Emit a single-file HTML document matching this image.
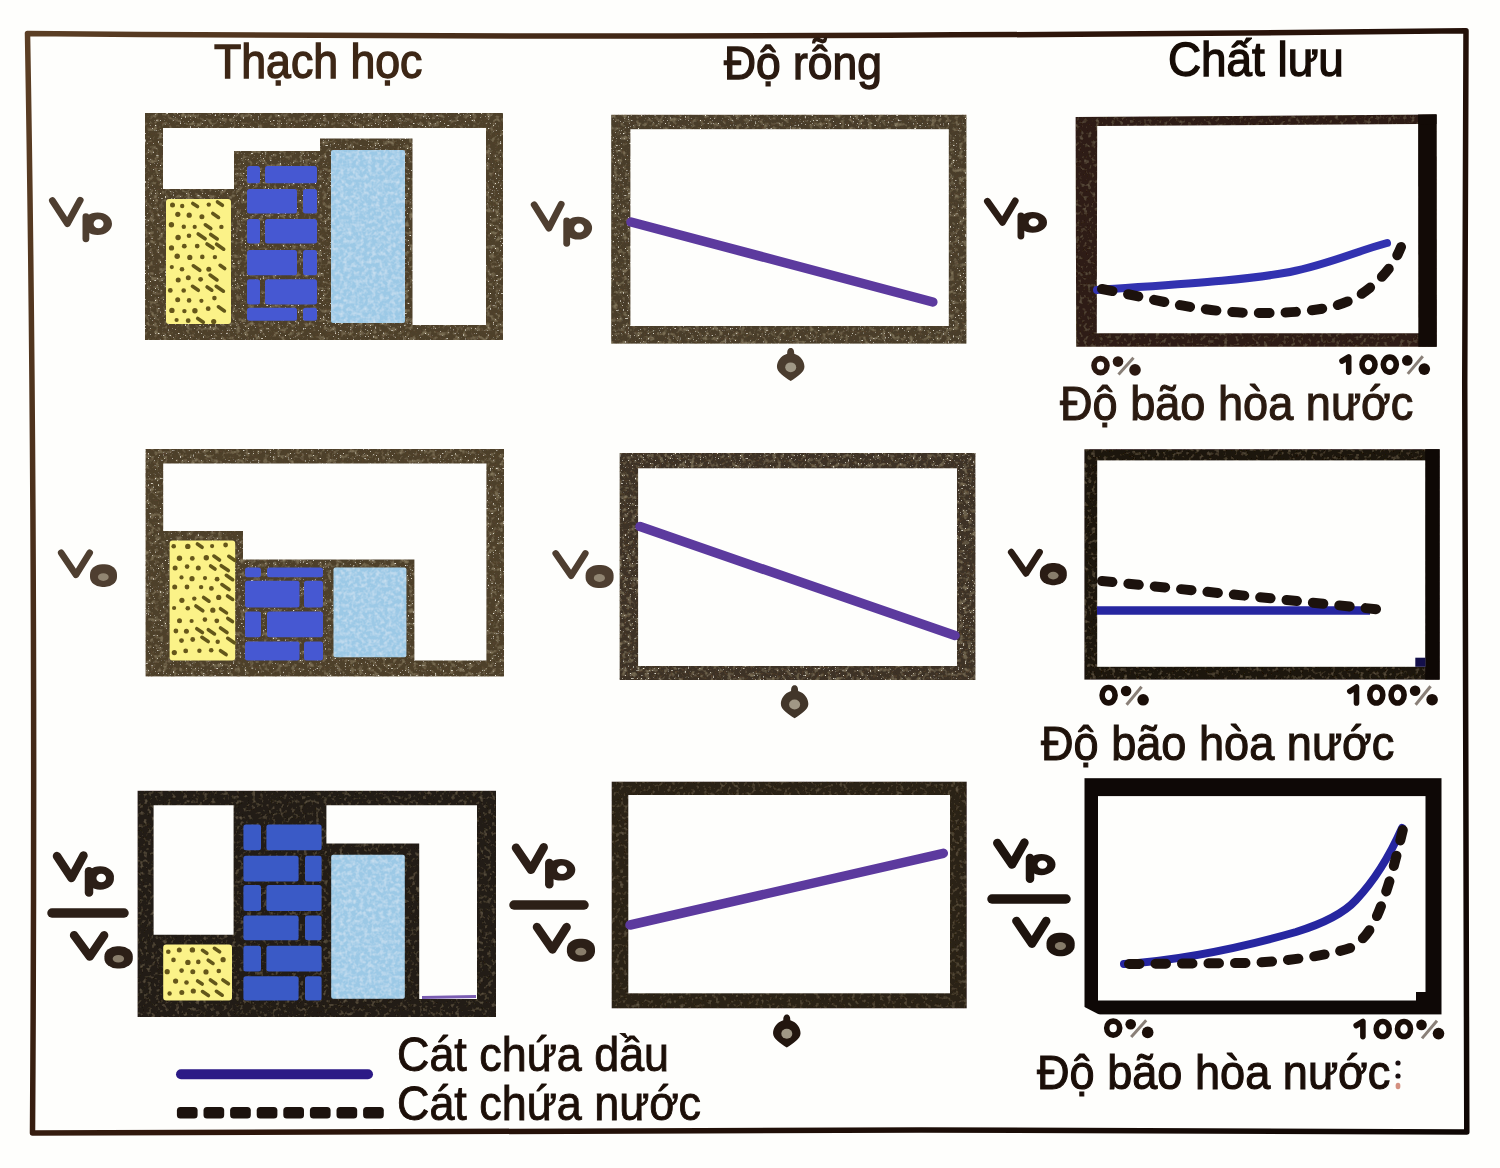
<!DOCTYPE html>
<html><head><meta charset="utf-8"><title>Figure</title>
<style>html,body{margin:0;padding:0;background:#fefefc;}svg{display:block;filter:blur(0.45px);}</style></head>
<body><svg width="1500" height="1168" viewBox="0 0 1500 1168">
<defs>
<linearGradient id="fg" gradientUnits="userSpaceOnUse" x1="0" y1="0" x2="1500" y2="1168">
<stop offset="0" stop-color="#5e4126"/><stop offset="0.45" stop-color="#2e160b"/><stop offset="1" stop-color="#0d0604"/>
</linearGradient>
<filter id="speck" x="0" y="0" width="100%" height="100%">
  <feTurbulence type="fractalNoise" baseFrequency="0.22" numOctaves="2" seed="5" result="m"/>
  <feColorMatrix in="m" type="matrix" values="0 0 0 0 0.48  0 0 0 0 0.40  0 0 0 0 0.24  1.1 0 0 0 -0.56" result="mo"/>
  <feComposite in="mo" in2="SourceAlpha" operator="in" result="mo2"/>
  <feTurbulence type="fractalNoise" baseFrequency="0.6" numOctaves="1" seed="3" result="n"/>
  <feColorMatrix in="n" type="matrix" values="0 0 0 0 0.85  0 0 0 0 0.80  0 0 0 0 0.68  8 0 0 0 -5.4" result="lt"/>
  <feComposite in="lt" in2="SourceAlpha" operator="in" result="lt2"/>
  <feTurbulence type="fractalNoise" baseFrequency="0.45" numOctaves="1" seed="11" result="n2"/>
  <feColorMatrix in="n2" type="matrix" values="0 0 0 0 0.10  0 0 0 0 0.06  0 0 0 0 0.03  -4 0 0 0 1.7" result="dk"/>
  <feComposite in="dk" in2="SourceAlpha" operator="in" result="dk2"/>
  <feMerge><feMergeNode in="SourceGraphic"/><feMergeNode in="mo2"/><feMergeNode in="dk2"/><feMergeNode in="lt2"/></feMerge>
</filter>
<filter id="speck2" x="0" y="0" width="100%" height="100%">
  <feTurbulence type="fractalNoise" baseFrequency="0.25" numOctaves="2" seed="9" result="m"/>
  <feColorMatrix in="m" type="matrix" values="0 0 0 0 0.32  0 0 0 0 0.25  0 0 0 0 0.16  0.9 0 0 0 -0.48" result="mo"/>
  <feComposite in="mo" in2="SourceAlpha" operator="in" result="mo2"/>
  <feMerge><feMergeNode in="SourceGraphic"/><feMergeNode in="mo2"/></feMerge>
</filter>
<filter id="mottle" x="0" y="0" width="100%" height="100%">
  <feTurbulence type="fractalNoise" baseFrequency="0.25" numOctaves="2" seed="7" result="n"/>
  <feColorMatrix in="n" type="matrix" values="0 0 0 0 1  0 0 0 0 1  0 0 0 0 1  0 0 0 1.4 -0.55" result="w"/>
  <feComposite in="w" in2="SourceAlpha" operator="in" result="w2"/>
  <feComponentTransfer in="w2" result="w3"><feFuncA type="linear" slope="0.55"/></feComponentTransfer>
  <feMerge><feMergeNode in="SourceGraphic"/><feMergeNode in="w3"/></feMerge>
</filter>
</defs>
<rect width="1500" height="1168" fill="#fefefc"/>
<path d="M27.5,33.4 C400,37 900,37 1466,30.8 C1464,400 1464,800 1466.8,1132 C1000,1129 400,1129 32.5,1133 C35,750 33,350 27.5,33.4 Z" fill="none" stroke="url(#fg)" stroke-width="5.5" stroke-linejoin="round"/>
<rect x="145.0" y="113.0" width="358.0" height="227.0" fill="#4e4129" filter="url(#speck)"/>
<path d="M163.0,128.0 L486.0,128.0 L486.0,325.0 L412.5,325.0 L412.5,138.5 L320.0,138.5 L320.0,151.0 L234.0,151.0 L234.0,189.0 L163.0,189.0Z" fill="#fefefc" />
<rect x="166.0" y="199.0" width="65.0" height="125.0" fill="#fbf288" rx="3"/>
<g><circle cx="172.5" cy="205.0" r="2.5" fill="#65561a"/><circle cx="182.2" cy="206.0" r="2.2" fill="#65561a"/><line x1="192.8" y1="203.4" x2="197.5" y2="206.6" stroke="#62561a" stroke-width="3.6" stroke-linecap="round"/><circle cx="208.8" cy="204.6" r="2.2" fill="#65561a"/><line x1="217.5" y1="201.9" x2="222.4" y2="205.3" stroke="#62561a" stroke-width="3.6" stroke-linecap="round"/><circle cx="177.8" cy="214.3" r="2.6" fill="#65561a"/><circle cx="189.2" cy="215.2" r="2.6" fill="#65561a"/><circle cx="201.9" cy="216.8" r="2.5" fill="#65561a"/><line x1="212.8" y1="213.5" x2="218.5" y2="217.4" stroke="#62561a" stroke-width="3.6" stroke-linecap="round"/><circle cx="171.4" cy="224.8" r="2.7" fill="#65561a"/><circle cx="183.8" cy="226.7" r="2.2" fill="#65561a"/><circle cx="194.7" cy="226.9" r="2.1" fill="#65561a"/><line x1="205.3" y1="224.8" x2="210.8" y2="228.6" stroke="#62561a" stroke-width="3.6" stroke-linecap="round"/><circle cx="221.4" cy="226.9" r="2.2" fill="#65561a"/><circle cx="178.1" cy="237.5" r="2.7" fill="#65561a"/><circle cx="189.0" cy="235.7" r="2.3" fill="#65561a"/><line x1="198.2" y1="234.0" x2="205.1" y2="238.8" stroke="#62561a" stroke-width="3.6" stroke-linecap="round"/><line x1="210.7" y1="234.5" x2="217.2" y2="238.9" stroke="#62561a" stroke-width="3.6" stroke-linecap="round"/><circle cx="171.5" cy="247.9" r="2.6" fill="#65561a"/><circle cx="184.3" cy="246.2" r="2.4" fill="#65561a"/><circle cx="197.2" cy="246.1" r="2.4" fill="#65561a"/><line x1="207.0" y1="244.0" x2="213.0" y2="248.1" stroke="#62561a" stroke-width="3.6" stroke-linecap="round"/><line x1="216.6" y1="244.2" x2="223.7" y2="249.2" stroke="#62561a" stroke-width="3.6" stroke-linecap="round"/><circle cx="177.2" cy="256.2" r="2.7" fill="#65561a"/><circle cx="189.8" cy="257.4" r="2.6" fill="#65561a"/><circle cx="202.3" cy="256.9" r="2.3" fill="#65561a"/><circle cx="214.9" cy="257.1" r="2.2" fill="#65561a"/><circle cx="171.8" cy="267.1" r="2.1" fill="#65561a"/><circle cx="182.0" cy="269.2" r="2.3" fill="#65561a"/><line x1="193.3" y1="265.8" x2="199.8" y2="270.3" stroke="#62561a" stroke-width="3.6" stroke-linecap="round"/><circle cx="208.8" cy="269.2" r="2.5" fill="#65561a"/><line x1="220.1" y1="265.3" x2="224.7" y2="268.5" stroke="#62561a" stroke-width="3.6" stroke-linecap="round"/><circle cx="178.2" cy="280.0" r="2.5" fill="#65561a"/><circle cx="188.3" cy="277.7" r="2.5" fill="#65561a"/><circle cx="200.6" cy="279.3" r="2.4" fill="#65561a"/><line x1="210.1" y1="275.1" x2="217.0" y2="279.9" stroke="#62561a" stroke-width="3.6" stroke-linecap="round"/><circle cx="170.3" cy="290.4" r="2.4" fill="#65561a"/><circle cx="183.7" cy="290.5" r="2.3" fill="#65561a"/><line x1="192.5" y1="286.3" x2="198.3" y2="290.3" stroke="#62561a" stroke-width="3.6" stroke-linecap="round"/><line x1="207.1" y1="287.0" x2="211.8" y2="290.2" stroke="#62561a" stroke-width="3.6" stroke-linecap="round"/><line x1="216.2" y1="286.3" x2="223.4" y2="291.2" stroke="#62561a" stroke-width="3.6" stroke-linecap="round"/><circle cx="177.7" cy="299.7" r="2.5" fill="#65561a"/><circle cx="189.1" cy="300.4" r="2.3" fill="#65561a"/><circle cx="201.4" cy="300.8" r="2.1" fill="#65561a"/><circle cx="214.4" cy="298.1" r="2.3" fill="#65561a"/><circle cx="171.9" cy="310.4" r="2.7" fill="#65561a"/><circle cx="184.4" cy="311.1" r="2.2" fill="#65561a"/><circle cx="194.9" cy="310.7" r="2.7" fill="#65561a"/><circle cx="208.2" cy="308.7" r="2.4" fill="#65561a"/><line x1="218.4" y1="306.8" x2="224.4" y2="310.9" stroke="#62561a" stroke-width="3.6" stroke-linecap="round"/><circle cx="176.6" cy="320.0" r="2.1" fill="#65561a"/><circle cx="188.2" cy="320.7" r="2.4" fill="#65561a"/><line x1="197.7" y1="318.5" x2="203.3" y2="322.3" stroke="#62561a" stroke-width="3.6" stroke-linecap="round"/><circle cx="213.7" cy="321.5" r="2.6" fill="#65561a"/></g>
<rect x="247.0" y="166.0" width="13.0" height="17.3" fill="#4658d2" rx="2.5"/>
<rect x="265.0" y="166.0" width="52.0" height="17.3" fill="#4658d2" rx="2.5"/>
<rect x="247.0" y="189.0" width="50.0" height="24.4" fill="#4658d2" rx="2.5"/>
<rect x="303.0" y="189.0" width="14.0" height="24.4" fill="#4658d2" rx="2.5"/>
<rect x="247.0" y="219.0" width="13.0" height="24.5" fill="#4658d2" rx="2.5"/>
<rect x="265.0" y="219.0" width="52.0" height="24.5" fill="#4658d2" rx="2.5"/>
<rect x="247.0" y="250.0" width="50.0" height="25.2" fill="#4658d2" rx="2.5"/>
<rect x="303.0" y="250.0" width="14.0" height="25.2" fill="#4658d2" rx="2.5"/>
<rect x="247.0" y="279.3" width="13.0" height="25.2" fill="#4658d2" rx="2.5"/>
<rect x="265.0" y="279.3" width="52.0" height="25.2" fill="#4658d2" rx="2.5"/>
<rect x="247.0" y="307.8" width="50.0" height="13.0" fill="#4658d2" rx="2.5"/>
<rect x="303.0" y="307.8" width="14.0" height="13.0" fill="#4658d2" rx="2.5"/>
<rect x="331.0" y="150.0" width="74.0" height="173.0" fill="#9cc9e6" rx="2" filter="url(#mottle)"/>
<rect x="145.6" y="449.0" width="358.4" height="227.4" fill="#4e4129" filter="url(#speck)"/>
<path d="M163.2,463.6 L486.4,463.6 L486.4,660.4 L414.4,660.4 L414.4,559.6 L243.0,559.6 L243.0,531.0 L163.2,531.0Z" fill="#fefefc" />
<rect x="169.6" y="540.4" width="65.6" height="120.0" fill="#fbf288" rx="3"/>
<g><circle cx="173.7" cy="546.2" r="2.3" fill="#65561a"/><circle cx="187.8" cy="546.4" r="2.7" fill="#65561a"/><line x1="197.4" y1="544.0" x2="202.1" y2="547.3" stroke="#62561a" stroke-width="3.6" stroke-linecap="round"/><circle cx="212.1" cy="546.1" r="2.1" fill="#65561a"/><circle cx="225.6" cy="545.0" r="2.4" fill="#65561a"/><circle cx="179.5" cy="558.3" r="2.7" fill="#65561a"/><circle cx="192.3" cy="558.4" r="2.4" fill="#65561a"/><circle cx="206.3" cy="557.8" r="2.7" fill="#65561a"/><line x1="213.9" y1="556.1" x2="219.5" y2="560.0" stroke="#62561a" stroke-width="3.6" stroke-linecap="round"/><line x1="228.8" y1="556.3" x2="234.6" y2="560.3" stroke="#62561a" stroke-width="3.6" stroke-linecap="round"/><circle cx="175.1" cy="568.1" r="2.5" fill="#65561a"/><circle cx="187.1" cy="566.6" r="2.3" fill="#65561a"/><circle cx="198.3" cy="567.9" r="2.5" fill="#65561a"/><line x1="210.6" y1="566.0" x2="215.0" y2="569.0" stroke="#62561a" stroke-width="3.6" stroke-linecap="round"/><line x1="221.2" y1="565.7" x2="228.3" y2="570.6" stroke="#62561a" stroke-width="3.6" stroke-linecap="round"/><circle cx="181.5" cy="577.4" r="2.1" fill="#65561a"/><circle cx="192.0" cy="578.7" r="2.6" fill="#65561a"/><circle cx="205.0" cy="578.1" r="2.1" fill="#65561a"/><circle cx="217.1" cy="579.2" r="2.4" fill="#65561a"/><line x1="226.3" y1="575.3" x2="232.7" y2="579.7" stroke="#62561a" stroke-width="3.6" stroke-linecap="round"/><circle cx="174.7" cy="587.0" r="2.5" fill="#65561a"/><circle cx="187.0" cy="587.0" r="2.4" fill="#65561a"/><circle cx="201.1" cy="587.1" r="2.2" fill="#65561a"/><circle cx="211.4" cy="588.4" r="2.4" fill="#65561a"/><line x1="221.9" y1="584.6" x2="229.1" y2="589.5" stroke="#62561a" stroke-width="3.6" stroke-linecap="round"/><circle cx="181.9" cy="600.3" r="2.6" fill="#65561a"/><circle cx="194.3" cy="598.6" r="2.2" fill="#65561a"/><line x1="203.6" y1="597.5" x2="209.0" y2="601.2" stroke="#62561a" stroke-width="3.6" stroke-linecap="round"/><circle cx="218.7" cy="597.4" r="2.6" fill="#65561a"/><line x1="227.5" y1="595.9" x2="232.7" y2="599.4" stroke="#62561a" stroke-width="3.6" stroke-linecap="round"/><circle cx="174.1" cy="608.0" r="2.1" fill="#65561a"/><circle cx="187.8" cy="608.2" r="2.3" fill="#65561a"/><line x1="195.9" y1="606.0" x2="202.8" y2="610.8" stroke="#62561a" stroke-width="3.6" stroke-linecap="round"/><circle cx="212.8" cy="610.2" r="2.6" fill="#65561a"/><line x1="220.5" y1="608.7" x2="226.5" y2="612.9" stroke="#62561a" stroke-width="3.6" stroke-linecap="round"/><circle cx="179.5" cy="620.7" r="2.5" fill="#65561a"/><circle cx="191.6" cy="621.0" r="2.1" fill="#65561a"/><circle cx="204.9" cy="619.6" r="2.3" fill="#65561a"/><circle cx="216.8" cy="620.8" r="2.4" fill="#65561a"/><line x1="227.8" y1="618.4" x2="232.4" y2="621.6" stroke="#62561a" stroke-width="3.6" stroke-linecap="round"/><circle cx="175.9" cy="631.0" r="2.4" fill="#65561a"/><circle cx="186.4" cy="631.3" r="2.5" fill="#65561a"/><line x1="196.8" y1="628.7" x2="202.4" y2="632.5" stroke="#62561a" stroke-width="3.6" stroke-linecap="round"/><line x1="208.3" y1="629.7" x2="214.5" y2="633.9" stroke="#62561a" stroke-width="3.6" stroke-linecap="round"/><line x1="220.5" y1="628.0" x2="227.0" y2="632.5" stroke="#62561a" stroke-width="3.6" stroke-linecap="round"/><circle cx="181.5" cy="640.6" r="2.4" fill="#65561a"/><circle cx="192.7" cy="639.5" r="2.4" fill="#65561a"/><line x1="201.9" y1="637.3" x2="208.2" y2="641.6" stroke="#62561a" stroke-width="3.6" stroke-linecap="round"/><circle cx="217.7" cy="641.7" r="2.2" fill="#65561a"/><line x1="227.7" y1="638.3" x2="234.3" y2="642.8" stroke="#62561a" stroke-width="3.6" stroke-linecap="round"/><circle cx="174.3" cy="652.6" r="2.6" fill="#65561a"/><circle cx="185.7" cy="650.9" r="2.4" fill="#65561a"/><circle cx="199.4" cy="650.8" r="2.2" fill="#65561a"/><circle cx="211.2" cy="650.3" r="2.3" fill="#65561a"/><line x1="220.5" y1="650.7" x2="226.1" y2="654.6" stroke="#62561a" stroke-width="3.6" stroke-linecap="round"/></g>
<rect x="245.0" y="567.5" width="16.0" height="9.7" fill="#4658d2" rx="2.5"/>
<rect x="267.0" y="567.5" width="56.0" height="9.7" fill="#4658d2" rx="2.5"/>
<rect x="245.0" y="580.8" width="54.5" height="26.7" fill="#4658d2" rx="2.5"/>
<rect x="304.0" y="580.8" width="19.0" height="26.7" fill="#4658d2" rx="2.5"/>
<rect x="245.0" y="611.6" width="16.0" height="25.7" fill="#4658d2" rx="2.5"/>
<rect x="267.0" y="611.6" width="56.0" height="25.7" fill="#4658d2" rx="2.5"/>
<rect x="245.0" y="641.4" width="54.5" height="19.0" fill="#4658d2" rx="2.5"/>
<rect x="304.0" y="641.4" width="19.0" height="19.0" fill="#4658d2" rx="2.5"/>
<rect x="333.5" y="567.6" width="72.9" height="89.6" fill="#9cc9e6" rx="2" filter="url(#mottle)"/>
<rect x="137.6" y="790.8" width="358.4" height="226.2" fill="#241a12" filter="url(#speck2)"/>
<path d="M153.6,805.2 L233.6,805.2 L233.6,934.8 L153.6,934.8Z" fill="#fefefc" />
<path d="M326.4,805.2 L477.0,805.2 L477.0,999.0 L419.2,999.0 L419.2,843.6 L326.4,843.6Z" fill="#fefefc" />
<rect x="163.2" y="944.4" width="68.8" height="56.0" fill="#fbf288" rx="3"/>
<g><circle cx="168.3" cy="951.7" r="2.3" fill="#65561a"/><circle cx="179.3" cy="949.9" r="2.5" fill="#65561a"/><circle cx="192.4" cy="949.9" r="2.7" fill="#65561a"/><line x1="202.5" y1="950.3" x2="206.9" y2="953.3" stroke="#62561a" stroke-width="3.6" stroke-linecap="round"/><line x1="214.4" y1="948.3" x2="219.6" y2="951.8" stroke="#62561a" stroke-width="3.6" stroke-linecap="round"/><circle cx="173.5" cy="959.9" r="2.3" fill="#65561a"/><circle cx="187.9" cy="962.4" r="2.7" fill="#65561a"/><circle cx="198.3" cy="961.9" r="2.3" fill="#65561a"/><line x1="208.2" y1="960.2" x2="213.0" y2="963.4" stroke="#62561a" stroke-width="3.6" stroke-linecap="round"/><circle cx="223.1" cy="959.7" r="2.6" fill="#65561a"/><circle cx="167.2" cy="971.7" r="2.6" fill="#65561a"/><circle cx="181.6" cy="970.6" r="2.3" fill="#65561a"/><circle cx="192.8" cy="971.8" r="2.5" fill="#65561a"/><circle cx="206.0" cy="971.9" r="2.6" fill="#65561a"/><circle cx="218.8" cy="971.0" r="2.3" fill="#65561a"/><circle cx="175.6" cy="981.1" r="2.6" fill="#65561a"/><circle cx="186.5" cy="982.5" r="2.3" fill="#65561a"/><line x1="197.6" y1="981.0" x2="202.2" y2="984.1" stroke="#62561a" stroke-width="3.6" stroke-linecap="round"/><line x1="210.4" y1="980.0" x2="215.8" y2="983.7" stroke="#62561a" stroke-width="3.6" stroke-linecap="round"/><line x1="222.9" y1="980.0" x2="228.4" y2="983.8" stroke="#62561a" stroke-width="3.6" stroke-linecap="round"/><circle cx="169.6" cy="993.5" r="2.2" fill="#65561a"/><circle cx="181.8" cy="992.5" r="2.5" fill="#65561a"/><circle cx="193.3" cy="991.0" r="2.6" fill="#65561a"/><line x1="202.5" y1="991.6" x2="208.4" y2="995.6" stroke="#62561a" stroke-width="3.6" stroke-linecap="round"/><line x1="216.4" y1="991.3" x2="222.2" y2="995.2" stroke="#62561a" stroke-width="3.6" stroke-linecap="round"/></g>
<rect x="243.4" y="824.4" width="17.6" height="25.8" fill="#3a5ac6" rx="2.5"/>
<rect x="266.4" y="824.4" width="55.2" height="25.8" fill="#3a5ac6" rx="2.5"/>
<rect x="243.4" y="855.7" width="55.2" height="25.8" fill="#3a5ac6" rx="2.5"/>
<rect x="305.0" y="855.7" width="16.6" height="25.8" fill="#3a5ac6" rx="2.5"/>
<rect x="243.4" y="885.1" width="17.6" height="25.8" fill="#3a5ac6" rx="2.5"/>
<rect x="266.4" y="885.1" width="55.2" height="25.8" fill="#3a5ac6" rx="2.5"/>
<rect x="243.4" y="915.5" width="55.2" height="24.8" fill="#3a5ac6" rx="2.5"/>
<rect x="305.0" y="915.5" width="16.6" height="24.8" fill="#3a5ac6" rx="2.5"/>
<rect x="243.4" y="945.8" width="17.6" height="25.8" fill="#3a5ac6" rx="2.5"/>
<rect x="266.4" y="945.8" width="55.2" height="25.8" fill="#3a5ac6" rx="2.5"/>
<rect x="243.4" y="976.2" width="55.2" height="24.2" fill="#3a5ac6" rx="2.5"/>
<rect x="305.0" y="976.2" width="16.6" height="24.2" fill="#3a5ac6" rx="2.5"/>
<rect x="331.2" y="854.8" width="73.6" height="144.0" fill="#9cc9e6" rx="2" filter="url(#mottle)"/>
<rect x="611.2" y="114.8" width="355.2" height="228.8" fill="#4a3d2a" filter="url(#speck)"/>
<rect x="630.4" y="129.2" width="318.4" height="196.8" fill="#fefefc" />
<line x1="631" y1="222" x2="932.8" y2="302" stroke="#5c3a9e" stroke-width="9.5" stroke-linecap="round"/>
<rect x="619.7" y="453.0" width="355.7" height="227.0" fill="#3e3026" filter="url(#speck)"/>
<rect x="638.1" y="468.3" width="318.9" height="197.7" fill="#fefefc" />
<line x1="640" y1="526.6" x2="955" y2="635.5" stroke="#5c3a9e" stroke-width="9.5" stroke-linecap="round"/>
<rect x="611.7" y="781.7" width="355.0" height="226.6" fill="#2c2018" filter="url(#speck2)"/>
<rect x="628.3" y="795.0" width="321.7" height="198.3" fill="#fefefc" />
<line x1="630" y1="925" x2="943.3" y2="853.3" stroke="#5c3a9e" stroke-width="9.5" stroke-linecap="round"/>
<path d="M1075.6,117.1 L1436.5,114.5 L1436.7,346.7 L1076.2,346.7 Z" fill="#2e1e14" filter="url(#speck2)"/>
<path d="M1418,114.7 L1436.5,114.5 L1436.7,346.7 L1418.3,346.7 Z" fill="#120a06"/>
<path d="M1418,114.7 L1436.5,114.5 L1436.5,124 L1418,124.2 Z" fill="#120a06"/>
<path d="M1097.2,126.1 L1418.1,124 L1418.3,333.3 L1096.8,333.3 Z" fill="#fefefc"/>
<rect x="1084.4" y="449.2" width="355.2" height="230.4" fill="#1e130c" filter="url(#speck2)"/>
<rect x="1425.2" y="449.2" width="14.4" height="230.4" fill="#0e0805" />
<rect x="1097.2" y="460.4" width="328.0" height="206.4" fill="#fefefc" />
<rect x="1084.5" y="778.2" width="357.0" height="236.2" fill="#0e0806" />
<rect x="1098.0" y="796.1" width="327.5" height="204.4" fill="#fefefc" />
<rect x="1416.0" y="992.0" width="10.0" height="9.0" fill="#0e0806" />
<path d="M1083.5,1006.5 L1101.0,1015.5 L1083.5,1015.5Z" fill="#fefefc" />
<rect x="1415.3" y="657.7" width="10.2" height="9.1" fill="#14104a" />
<path d="M1097,290 C1180,284 1240,281 1290,272 C1330,264 1360,250 1387,243" fill="none" stroke="#3232b0" stroke-width="8" stroke-linecap="round"/>
<path d="M1102,289 C1160,300 1200,313 1260,313 C1310,313 1340,308 1360,295 C1385,278 1395,262 1401,247" fill="none" stroke="#1c120d" stroke-width="10" stroke-linecap="round" stroke-dasharray="10.5 16"/>
<line x1="1097" y1="610.5" x2="1370" y2="610.5" stroke="#2626a0" stroke-width="8.5"/>
<line x1="1102" y1="581" x2="1384" y2="610" stroke="#1c120d" stroke-width="10" stroke-linecap="round" stroke-dasharray="10.5 16"/>
<path d="M1124,964 C1180,960 1240,948 1296,932 C1325,923 1345,912 1356,900 C1375,880 1390,855 1402,828" fill="none" stroke="#2626a0" stroke-width="8" stroke-linecap="round"/>
<path d="M1129,964 L1250,963 C1290,961 1330,955 1350,948 C1370,938 1378,915 1385,895 C1392,875 1398,850 1404,825" fill="none" stroke="#1c120d" stroke-width="10" stroke-linecap="round" stroke-dasharray="10.5 16"/>
<path d="M422,997.5 L476,996.5" stroke="#5a36a0" stroke-width="3" opacity="0.8"/>
<circle cx="1398" cy="1063" r="2.6" fill="#1a0e10"/><circle cx="1398" cy="1076" r="2.6" fill="#1a0e10"/><ellipse cx="1398" cy="1086" rx="2.4" ry="3.2" fill="#d49080"/>
<text transform="translate(214,78) scale(0.93,1)" font-family="Liberation Sans" font-size="48" font-weight="normal" fill="#3d2716" text-anchor="start" stroke="#3d2716" stroke-width="1.4" >Thạch học</text>
<text transform="translate(724,78.7) scale(0.955,1)" font-family="Liberation Sans" font-size="46.5" font-weight="normal" fill="#2a1a10" text-anchor="start" stroke="#2a1a10" stroke-width="1.4" >Độ rỗng</text>
<text transform="translate(1168,75.7) scale(0.945,1)" font-family="Liberation Sans" font-size="48.5" font-weight="normal" fill="#160c06" text-anchor="start" stroke="#160c06" stroke-width="1.4" >Chất lưu</text>
<text transform="translate(1060,420) scale(0.95,1)" font-family="Liberation Sans" font-size="47.5" font-weight="normal" fill="#2a1a10" text-anchor="start" stroke="#2a1a10" stroke-width="1.1" >Độ bão hòa nước</text>
<text transform="translate(1041,759.6) scale(0.95,1)" font-family="Liberation Sans" font-size="47.5" font-weight="normal" fill="#1e120a" text-anchor="start" stroke="#1e120a" stroke-width="1.1" >Độ bão hòa nước</text>
<text transform="translate(1037,1088.5) scale(0.95,1)" font-family="Liberation Sans" font-size="47.5" font-weight="normal" fill="#1a0e08" text-anchor="start" stroke="#1a0e08" stroke-width="1.1" >Độ bão hòa nước</text>
<text transform="translate(397,1071) scale(0.945,1)" font-family="Liberation Sans" font-size="47.5" font-weight="normal" fill="#1c0f08" text-anchor="start" stroke="#1c0f08" stroke-width="0.9" >Cát chứa dầu</text>
<text transform="translate(397,1119.5) scale(0.945,1)" font-family="Liberation Sans" font-size="47.5" font-weight="normal" fill="#1c0f08" text-anchor="start" stroke="#1c0f08" stroke-width="0.9" >Cát chứa nước</text>
<ellipse cx="1100.5" cy="365.6" rx="6.5" ry="7.0" fill="none" stroke="#2a1810" stroke-width="5.6"/>
<line x1="1133.5" y1="357.7" x2="1118.5" y2="374.4" stroke="#8a8078" stroke-width="3"/>
<circle cx="1118.0" cy="361.6" r="5.3" fill="#2a1810"/>
<circle cx="1135.0" cy="369.9" r="5.8" fill="#2a1810"/>
<polyline points="1342.0,361.0 1348.7,357.0 1348.7,372.1" fill="none" stroke="#1a0e08" stroke-width="5.6" stroke-linecap="round" stroke-linejoin="round"/>
<ellipse cx="1368.5" cy="364.6" rx="6.5" ry="7.5" fill="none" stroke="#1a0e08" stroke-width="5.6"/>
<ellipse cx="1389.8" cy="364.6" rx="6.5" ry="7.5" fill="none" stroke="#1a0e08" stroke-width="5.6"/>
<line x1="1422.8" y1="356.2" x2="1407.8" y2="373.9" stroke="#8a8078" stroke-width="3"/>
<circle cx="1407.3" cy="360.4" r="5.3" fill="#1a0e08"/>
<circle cx="1424.3" cy="369.1" r="5.8" fill="#1a0e08"/>
<ellipse cx="1108.6" cy="695.2" rx="6.5" ry="7.7" fill="none" stroke="#1a0e08" stroke-width="5.6"/>
<line x1="1141.6" y1="686.7" x2="1126.6" y2="704.7" stroke="#8a8078" stroke-width="3"/>
<circle cx="1126.1" cy="691.0" r="5.3" fill="#1a0e08"/>
<circle cx="1143.1" cy="699.8" r="5.8" fill="#1a0e08"/>
<polyline points="1349.8,691.3 1356.5,687.0 1356.5,702.9" fill="none" stroke="#1a0e08" stroke-width="5.6" stroke-linecap="round" stroke-linejoin="round"/>
<ellipse cx="1376.3" cy="695.0" rx="6.5" ry="8.0" fill="none" stroke="#1a0e08" stroke-width="5.6"/>
<ellipse cx="1397.6" cy="695.0" rx="6.5" ry="8.0" fill="none" stroke="#1a0e08" stroke-width="5.6"/>
<line x1="1430.6" y1="686.2" x2="1415.6" y2="704.7" stroke="#8a8078" stroke-width="3"/>
<circle cx="1415.1" cy="690.7" r="5.3" fill="#1a0e08"/>
<circle cx="1432.1" cy="699.7" r="5.8" fill="#1a0e08"/>
<ellipse cx="1113.2" cy="1028.1" rx="6.5" ry="7.0" fill="none" stroke="#1a0e08" stroke-width="5.6"/>
<line x1="1146.2" y1="1020.3" x2="1131.2" y2="1036.9" stroke="#8a8078" stroke-width="3"/>
<circle cx="1130.7" cy="1024.2" r="5.3" fill="#1a0e08"/>
<circle cx="1147.7" cy="1032.4" r="5.8" fill="#1a0e08"/>
<polyline points="1356.2,1025.5 1362.9,1021.5 1362.9,1036.6" fill="none" stroke="#1a0e08" stroke-width="5.6" stroke-linecap="round" stroke-linejoin="round"/>
<ellipse cx="1382.7" cy="1029.0" rx="6.5" ry="7.5" fill="none" stroke="#1a0e08" stroke-width="5.6"/>
<ellipse cx="1404.0" cy="1029.0" rx="6.5" ry="7.5" fill="none" stroke="#1a0e08" stroke-width="5.6"/>
<line x1="1437.0" y1="1020.7" x2="1422.0" y2="1038.4" stroke="#8a8078" stroke-width="3"/>
<circle cx="1421.5" cy="1024.9" r="5.3" fill="#1a0e08"/>
<circle cx="1438.5" cy="1033.6" r="5.8" fill="#1a0e08"/>
<polyline points="52.4,200.7 67.4,223.7 80.2,200.2" fill="none" stroke="#4e3e30" stroke-width="6.8" stroke-linecap="round" stroke-linejoin="round"/>
<line x1="85.9" y1="216.7" x2="85.9" y2="238.8" stroke="#4e3e30" stroke-width="6.8" stroke-linecap="round"/>
<path d="M83.2,223.7 A14.4,11.3 0 1,0 112.0,223.7 A14.4,11.3 0 1,0 83.2,223.7 Z M93.6,223.7 A5.0,4.5 0 1,0 103.6,223.7 A5.0,4.5 0 1,0 93.6,223.7 Z" fill="#4e3e30" fill-rule="evenodd"/>
<polyline points="534.2,204.8 548.9,228.1 561.2,204.3" fill="none" stroke="#4e3e30" stroke-width="6.8" stroke-linecap="round" stroke-linejoin="round"/>
<line x1="566.7" y1="220.9" x2="566.7" y2="243.3" stroke="#4e3e30" stroke-width="6.8" stroke-linecap="round"/>
<path d="M564.1,228.1 A14.0,11.4 0 1,0 592.1,228.1 A14.0,11.4 0 1,0 564.1,228.1 Z M574.2,228.1 A4.9,4.5 0 1,0 584.0,228.1 A4.9,4.5 0 1,0 574.2,228.1 Z" fill="#4e3e30" fill-rule="evenodd"/>
<polyline points="987.4,201.3 1002.4,222.4 1015.2,200.9" fill="none" stroke="#2a1c14" stroke-width="6.8" stroke-linecap="round" stroke-linejoin="round"/>
<line x1="1020.9" y1="215.9" x2="1020.9" y2="236.1" stroke="#2a1c14" stroke-width="6.8" stroke-linecap="round"/>
<path d="M1018.2,222.4 A14.4,10.3 0 1,0 1047.0,222.4 A14.4,10.3 0 1,0 1018.2,222.4 Z M1028.6,222.4 A5.0,4.1 0 1,0 1038.6,222.4 A5.0,4.1 0 1,0 1028.6,222.4 Z" fill="#2a1c14" fill-rule="evenodd"/>
<polyline points="61.2,552.8 76.0,574.8 89.7,552.8" fill="none" stroke="#4e3e30" stroke-width="6.6" stroke-linecap="round" stroke-linejoin="round"/>
<rect x="90.0" y="564.2" width="27.0" height="22.8" rx="12.2" ry="10.3" fill="#4e3e30"/>
<ellipse cx="103.3" cy="577.1" rx="5.4" ry="3.9" fill="#a89e88" opacity="0.75"/>
<polyline points="555.7,553.4 571.1,575.7 585.3,553.4" fill="none" stroke="#4e3e30" stroke-width="6.6" stroke-linecap="round" stroke-linejoin="round"/>
<rect x="585.6" y="565.0" width="28.0" height="23.0" rx="12.6" ry="10.4" fill="#4e3e30"/>
<ellipse cx="599.4" cy="578.0" rx="5.6" ry="3.9" fill="#a89e88" opacity="0.75"/>
<polyline points="1011.2,552.1 1026.0,573.4 1039.6,552.1" fill="none" stroke="#2a1c14" stroke-width="6.6" stroke-linecap="round" stroke-linejoin="round"/>
<rect x="1039.9" y="563.1" width="26.9" height="22.1" rx="12.1" ry="9.9" fill="#2a1c14"/>
<ellipse cx="1053.2" cy="575.6" rx="5.4" ry="3.8" fill="#a89e88" opacity="0.75"/>
<polyline points="57.0,856.1 71.4,878.0 83.5,855.6" fill="none" stroke="#2c1f17" stroke-width="8.5" stroke-linecap="round" stroke-linejoin="round"/>
<line x1="89.0" y1="871.3" x2="89.0" y2="892.4" stroke="#2c1f17" stroke-width="8.5" stroke-linecap="round"/>
<path d="M86.4,878.0 A13.8,10.8 0 1,0 113.9,878.0 A13.8,10.8 0 1,0 86.4,878.0 Z M96.4,878.0 A4.8,4.3 0 1,0 106.0,878.0 A4.8,4.3 0 1,0 96.4,878.0 Z" fill="#2c1f17" fill-rule="evenodd"/>
<line x1="52" y1="913" x2="124" y2="913" stroke="#2c1f17" stroke-width="9.5" stroke-linecap="round"/>
<polyline points="74.1,935.3 89.7,956.6 104.1,935.3" fill="none" stroke="#2c1f17" stroke-width="8.5" stroke-linecap="round" stroke-linejoin="round"/>
<rect x="104.4" y="946.3" width="28.4" height="22.1" rx="12.8" ry="9.9" fill="#2c1f17"/>
<ellipse cx="118.4" cy="958.8" rx="5.7" ry="3.8" fill="#a89e88" opacity="0.75"/>
<polyline points="516.0,847.8 531.0,869.8 543.7,847.3" fill="none" stroke="#2c1f17" stroke-width="8.5" stroke-linecap="round" stroke-linejoin="round"/>
<line x1="549.3" y1="863.1" x2="549.3" y2="884.2" stroke="#2c1f17" stroke-width="8.5" stroke-linecap="round"/>
<path d="M546.7,869.8 A14.3,10.8 0 1,0 575.3,869.8 A14.3,10.8 0 1,0 546.7,869.8 Z M557.0,869.8 A5.0,4.3 0 1,0 567.0,869.8 A5.0,4.3 0 1,0 557.0,869.8 Z" fill="#2c1f17" fill-rule="evenodd"/>
<line x1="514" y1="905" x2="584" y2="905" stroke="#2c1f17" stroke-width="9.5" stroke-linecap="round"/>
<polyline points="537.0,927.1 552.4,949.4 566.6,927.1" fill="none" stroke="#2c1f17" stroke-width="8.5" stroke-linecap="round" stroke-linejoin="round"/>
<rect x="566.9" y="938.7" width="28.1" height="23.0" rx="12.6" ry="10.4" fill="#2c1f17"/>
<ellipse cx="580.8" cy="951.7" rx="5.6" ry="3.9" fill="#a89e88" opacity="0.75"/>
<polyline points="997.3,843.0 1012.0,864.6 1024.4,842.6" fill="none" stroke="#1e140e" stroke-width="8.5" stroke-linecap="round" stroke-linejoin="round"/>
<line x1="1030.0" y1="858.0" x2="1030.0" y2="878.7" stroke="#1e140e" stroke-width="8.5" stroke-linecap="round"/>
<path d="M1027.3,864.6 A14.1,10.6 0 1,0 1055.5,864.6 A14.1,10.6 0 1,0 1027.3,864.6 Z M1037.5,864.6 A4.9,4.2 0 1,0 1047.3,864.6 A4.9,4.2 0 1,0 1037.5,864.6 Z" fill="#1e140e" fill-rule="evenodd"/>
<line x1="992" y1="899" x2="1066" y2="899" stroke="#1e140e" stroke-width="9.5" stroke-linecap="round"/>
<polyline points="1016.4,920.9 1031.9,943.7 1046.2,920.9" fill="none" stroke="#1e140e" stroke-width="8.5" stroke-linecap="round" stroke-linejoin="round"/>
<rect x="1046.5" y="932.7" width="28.2" height="23.5" rx="12.7" ry="10.6" fill="#1e140e"/>
<ellipse cx="1060.4" cy="946.0" rx="5.6" ry="4.0" fill="#a89e88" opacity="0.75"/>
<g transform="translate(790.7,366.8) scale(1.1)"><path d="M0,-17 C2.5,-17 3.2,-14.5 3.2,-11.8 C9,-10 12.5,-5 12.5,0 C12.5,5 6,9 0,13 C-6,9 -12.5,5 -12.5,0 C-12.5,-5 -9,-10 -3.2,-11.8 C-3.2,-14.5 -2.5,-17 0,-17 Z" fill="#4a3c2e"/><ellipse cx="0" cy="0.5" rx="5" ry="4.5" fill="#a09886"/></g>
<g transform="translate(794.6,704.0) scale(1.1)"><path d="M0,-17 C2.5,-17 3.2,-14.5 3.2,-11.8 C9,-10 12.5,-5 12.5,0 C12.5,5 6,9 0,13 C-6,9 -12.5,5 -12.5,0 C-12.5,-5 -9,-10 -3.2,-11.8 C-3.2,-14.5 -2.5,-17 0,-17 Z" fill="#42362a"/><ellipse cx="0" cy="0.5" rx="5" ry="4.5" fill="#a09886"/></g>
<g transform="translate(786.8,1033.2) scale(1.1)"><path d="M0,-17 C2.5,-17 3.2,-14.5 3.2,-11.8 C9,-10 12.5,-5 12.5,0 C12.5,5 6,9 0,13 C-6,9 -12.5,5 -12.5,0 C-12.5,-5 -9,-10 -3.2,-11.8 C-3.2,-14.5 -2.5,-17 0,-17 Z" fill="#22160f"/><ellipse cx="0" cy="0.5" rx="5" ry="4.5" fill="#a09886"/></g>
<line x1="181" y1="1074.3" x2="368" y2="1074.3" stroke="#2c1a86" stroke-width="10" stroke-linecap="round"/>
<rect x="176.9" y="1107" width="20.7" height="11.5" rx="3.5" fill="#1c120d"/>
<rect x="203.5" y="1107" width="20.7" height="11.5" rx="3.5" fill="#1c120d"/>
<rect x="230.1" y="1107" width="20.7" height="11.5" rx="3.5" fill="#1c120d"/>
<rect x="256.7" y="1107" width="20.7" height="11.5" rx="3.5" fill="#1c120d"/>
<rect x="283.3" y="1107" width="20.7" height="11.5" rx="3.5" fill="#1c120d"/>
<rect x="309.9" y="1107" width="20.7" height="11.5" rx="3.5" fill="#1c120d"/>
<rect x="336.5" y="1107" width="20.7" height="11.5" rx="3.5" fill="#1c120d"/>
<rect x="363.1" y="1107" width="20.7" height="11.5" rx="3.5" fill="#1c120d"/>
</svg></body></html>
